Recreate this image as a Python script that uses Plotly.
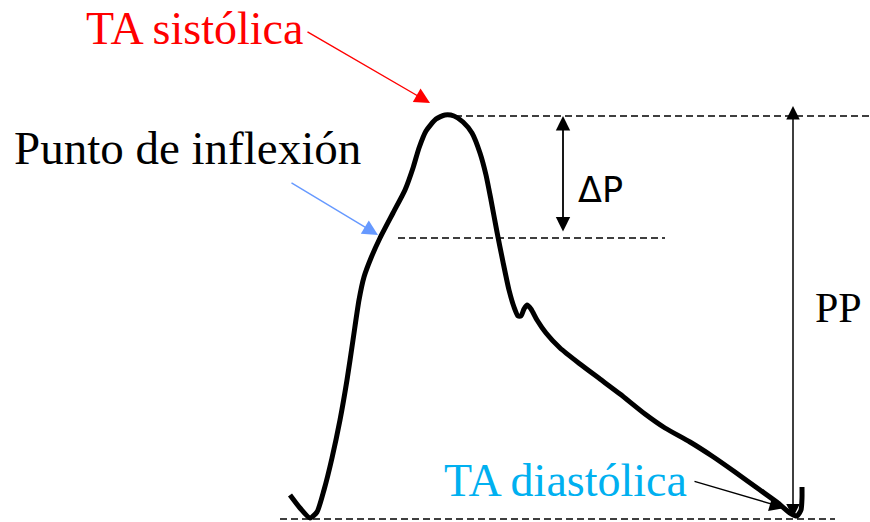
import plotly.graph_objects as go

# Arterial pressure pulse: time (arbitrary units) vs pressure (arbitrary units)
t_wave = [290, 300, 310, 317, 324, 332, 340, 347, 353, 359, 364, 371, 380, 393,
          405, 413, 419, 426, 436, 445, 454, 463, 472, 480, 486, 491, 497, 503,
          509, 514, 518, 521, 524, 527, 531, 537, 546, 560, 580, 600, 620, 645,
          665, 690, 712, 735, 760, 778, 790, 797, 801, 802, 802]
p_wave = [27, 14, 4, 10, 32, 64, 102, 142, 182, 222, 245, 264, 284, 309,
          332, 354, 374, 391, 403, 407, 406, 400, 389, 369, 347, 322, 290, 260,
          232, 215, 206, 206, 213, 217, 213, 202, 189, 174, 158, 143, 128, 108,
          94, 80, 66, 50, 32, 19, 9, 6, 12, 24, 35]

# Reference pressure levels
p_systolic = 406
p_inflection = 284
p_diastolic = 3

# Extent of each dashed reference line along the time axis
sys_line_t = [455, 870]
infl_line_t = [398, 665]
dia_line_t = [280, 835]

# Double-headed measurement arrows
dp_arrow_t = 563
dp_arrow_top = 406
pp_arrow_t = 793
pp_arrow_top = 416

labels = {
    "systolic": "TA sistólica",
    "inflection": "Punto de inflexión",
    "diastolic": "TA diastólica",
    "delta": "ΔP",
    "pulse": "PP",
}

fig = go.Figure()

dash_style = "7px,4px"
for t_span, level in [(sys_line_t, p_systolic), (infl_line_t, p_inflection),
                      (dia_line_t, p_diastolic)]:
    fig.add_trace(go.Scatter(
        x=t_span, y=[level, level], mode="lines",
        line=dict(color="black", width=1.4, dash=dash_style),
        hoverinfo="skip", showlegend=False))

fig.add_trace(go.Scatter(
    x=t_wave, y=p_wave, mode="lines",
    line=dict(color="black", width=5, shape="spline", smoothing=0.6),
    showlegend=False))

serif = "Liberation Serif, Times New Roman, serif"

annotations = [
    # Text labels
    dict(x=194, y=494, text=labels["systolic"], showarrow=False,
         font=dict(family=serif, size=46, color="#FF0000")),
    dict(x=187, y=374, text=labels["inflection"], showarrow=False,
         font=dict(family=serif, size=47, color="black")),
    dict(x=565, y=42, text=labels["diastolic"], showarrow=False,
         font=dict(family=serif, size=46, color="#00B0F0")),
    dict(x=600, y=332, text=labels["delta"], showarrow=False,
         font=dict(family="DejaVu Sans", size=35, color="black")),
    dict(x=838, y=214, text=labels["pulse"], showarrow=False,
         font=dict(family=serif, size=42, color="black")),
    # Pointer arrows
    dict(x=430, y=419, ax=306, ay=491, axref="x", ayref="y", text="",
         showarrow=True, arrowhead=2, arrowsize=2.2, arrowwidth=1.4,
         arrowcolor="#FF0000", standoff=0),
    dict(x=378, y=287, ax=290, ay=340, axref="x", ayref="y", text="",
         showarrow=True, arrowhead=2, arrowsize=2.2, arrowwidth=1.4,
         arrowcolor="#6699FF", standoff=0),
    dict(x=785, y=14, ax=693, ay=41, axref="x", ayref="y", text="",
         showarrow=True, arrowhead=2, arrowsize=2.2, arrowwidth=1.4,
         arrowcolor="black", standoff=0),
    # Measurement arrows
    dict(x=dp_arrow_t, y=dp_arrow_top, ax=dp_arrow_t, ay=p_inflection + 5,
         axref="x", ayref="y", text="", showarrow=True,
         arrowside="end+start", arrowhead=2, startarrowhead=2,
         arrowsize=1.6, startarrowsize=1.6, arrowwidth=1.8,
         arrowcolor="black", standoff=0, startstandoff=0),
    dict(x=pp_arrow_t, y=pp_arrow_top, ax=pp_arrow_t, ay=p_diastolic,
         axref="x", ayref="y", text="", showarrow=True,
         arrowside="end+start", arrowhead=2, startarrowhead=2,
         arrowsize=1.8, startarrowsize=1.8, arrowwidth=1.5,
         arrowcolor="black", standoff=0, startstandoff=0),
]

fig.update_layout(
    width=870, height=522,
    margin=dict(l=0, r=0, t=0, b=0),
    paper_bgcolor="white", plot_bgcolor="white",
    xaxis=dict(range=[0, 870], visible=False, fixedrange=True),
    yaxis=dict(range=[0, 522], visible=False, fixedrange=True),
    annotations=annotations,
    showlegend=False,
)

fig.write_html("out.html", config={"displayModeBar": False})
